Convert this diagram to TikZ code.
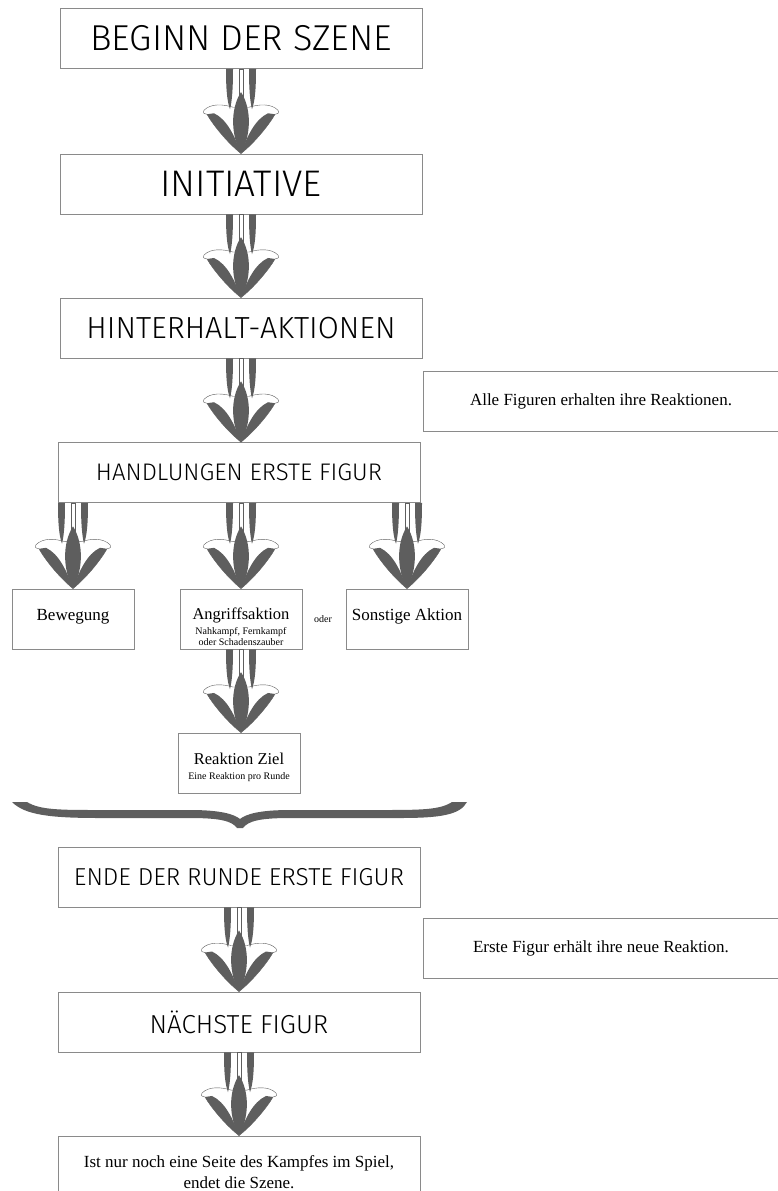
\documentclass[tikz,border=0pt]{standalone}
\usepackage{fontspec}
\setmainfont{Liberation Serif}
\newfontfamily\titlefont{Fira Sans Light}
\usetikzlibrary{positioning, calc, decorations.markings}

\definecolor{leafgray}{HTML}{5E5E5E}
\definecolor{boxline}{HTML}{8A8A8A}

% one half of the lily arrow, drawn along the path (x = down the path)
\newcommand{\lilyhalf}{%
  \filldraw[fill=white, draw=leafgray, line width=0.4pt] (38,-8) .. controls (35,-18) and (34,-30) .. (41,-37) .. controls (44,-38) .. (45,-34) .. controls (54,-29) and (72,-15) .. (84,0) -- (38,0) -- cycle;
  \fill[leafgray] (45,-34) .. controls (54,-29) and (72,-15) .. (84,0) .. controls (67,-6) and (50,-14) .. (44,-27) -- cycle;
  \fill[leafgray] (0,-15) -- (0,-8) .. controls (20,-8) and (32,-9) .. (40,-11) .. controls (32,-14) and (20,-15) .. (0,-15) -- cycle;
}
\newcommand{\lilyarrow}{%
  \begin{scope}[xscale={\pgfdecoratedpathlength/84}]
    \lilyhalf
    \begin{scope}[yscale=-1]\lilyhalf\end{scope}
    \filldraw[fill=white, draw=leafgray, line width=0.4pt] (0,-1.8) rectangle (28,1.8);
    \fill[leafgray] (23,0) .. controls (40,11) and (66,10) .. (84,0) .. controls (66,-10) and (40,-11) .. (23,0) -- cycle;
  \end{scope}
}

\begin{document}
\begin{tikzpicture}[x=1pt, y=1pt]
    \tikzstyle{stage} = [draw=boxline, line width=0.8pt, rectangle, minimum width=362pt, minimum height=60pt, inner sep=0pt, font=\titlefont\fontsize{24}{24}\selectfont]
    \tikzstyle{note} = [draw=boxline, line width=0.8pt, rectangle, minimum width=356pt, minimum height=60pt, font=\fontsize{17}{20}\selectfont]
    \tikzstyle{choice} = [draw=boxline, line width=0.8pt, rectangle, minimum width=122pt, minimum height=60pt, inner sep=2pt, align=center, font=\fontsize{16.5}{19}\selectfont]
    \tikzstyle{lily} = [decorate, decoration={markings, mark=at position 0 with {\lilyarrow}}]

    \useasboundingbox (0,0) rectangle (777,-1191);

    \node[stage, font=\titlefont\fontsize{36}{36}\selectfont] (begin) at (241,-38.5) {BEGINN DER SZENE};
    \node[stage, font=\titlefont\fontsize{37}{37}\selectfont] (init) at (241,-184) {INITIATIVE};
    \node[stage, font=\titlefont\fontsize{30.5}{30.5}\selectfont] (hinterhalt) at (241,-328) {HINTERHALT-AKTIONEN};
    \node[note] (note1) at (601,-401) {Alle Figuren erhalten ihre Reaktionen.};
    \node[stage] (handlungen) at (239,-472.5) {HANDLUNGEN ERSTE FIGUR};

    \node[choice, font=\fontsize{17}{19}\selectfont] (bewegung) at (73,-619) {Bewegung\\[-11pt]};
    \node[choice] (angriff) at (241,-619) {\rule{0pt}{28pt}Angriffsaktion\\[-4pt]{\fontsize{10}{11}\selectfont Nahkampf, Fernkampf}\\[-8pt]{\fontsize{10}{11}\selectfont oder Schadenszauber}};
    \node[font=\fontsize{10}{10}\selectfont] (oder) at (323,-619) {oder};
    \node[choice, font=\fontsize{17}{19}\selectfont] (sonstige) at (407,-619) {Sonstige Aktion\\[-11pt]};
    \node[choice] (reaktion) at (239,-763) {\rule{0pt}{20pt}Reaktion Ziel\\[-4pt]{\fontsize{10}{11}\selectfont Eine Reaktion pro Runde}};

    % brace
    \fill[leafgray] (27,-802) .. controls (40,-810) and (60,-810) .. (100,-810) -- (190,-810) .. controls (220,-810) and (234,-814) .. (240,-819) .. controls (246,-814) and (260,-810) .. (290,-810) -- (380,-810) .. controls (420,-810) and (440,-810) .. (452,-802) -- (467,-802) .. controls (460,-815) and (440,-818) .. (400,-818) -- (290,-818) .. controls (260,-818) and (248,-821) .. (243,-828) -- (237,-828) .. controls (232,-821) and (220,-818) .. (190,-818) -- (100,-818) .. controls (50,-818) and (25,-815) .. (12,-802) -- cycle;

    \node[stage, font=\titlefont\fontsize{24.5}{24.5}\selectfont] (ende) at (239,-877) {ENDE DER RUNDE ERSTE FIGUR};
    \node[note] (note2) at (601,-948) {Erste Figur erhält ihre neue Reaktion.};
    \node[stage, font=\titlefont\fontsize{26}{26}\selectfont] (naechste) at (239,-1022) {NÄCHSTE FIGUR};
    \node[note, minimum width=362pt, minimum height=72pt, align=center, font=\fontsize{17}{21}\selectfont] (last) at (239,-1172) {Ist nur noch eine Seite des Kampfes im Spiel,\\endet die Szene.};

    \path[lily] (begin.south) -- (init.north);
    \path[lily] (init.south) -- (hinterhalt.north);
    \path[lily] (hinterhalt.south) -- (hinterhalt.south |- handlungen.north);
    \path[lily] (handlungen.south -| bewegung.north) -- (bewegung.north);
    \path[lily] (angriff.north |- handlungen.south) -- (angriff.north);
    \path[lily] (handlungen.south -| sonstige.north) -- (sonstige.north);
    \path[lily] (angriff.south) -- (angriff.south |- reaktion.north);
    \path[lily] (ende.south) -- (naechste.north);
    \path[lily] (naechste.south) -- (last.north);
\end{tikzpicture}
\end{document}
